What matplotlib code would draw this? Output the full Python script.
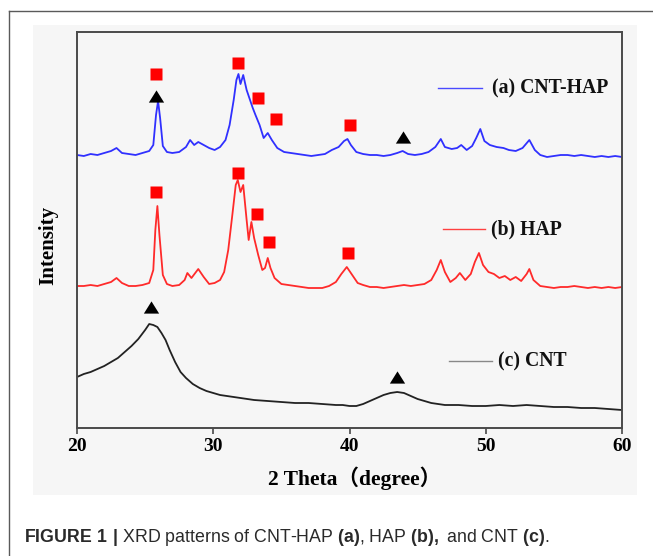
import matplotlib
matplotlib.use("Agg")
import matplotlib.pyplot as plt
from matplotlib.lines import Line2D
from matplotlib.patches import Rectangle
from matplotlib.path import Path

# ---------------- data ----------------
theta_a = [20.0, 20.5, 21.0, 21.5, 22.0, 22.5, 22.9, 23.3, 23.8, 24.3, 24.8, 25.3, 25.6, 25.8, 25.95,
           26.1, 26.3, 26.6, 27.0, 27.5, 28.0, 28.3, 28.6, 28.9, 29.3, 29.7, 30.1, 30.5, 30.9, 31.2,
           31.5, 31.7, 31.85, 32.0, 32.2, 32.45, 32.7, 32.9, 33.1, 33.4, 33.7, 34.0, 34.3, 34.7, 35.2,
           35.7, 36.2, 36.7, 37.2, 37.7, 38.2, 38.7, 39.2, 39.6, 39.85, 40.1, 40.5, 41.0, 41.5, 42.0,
           42.5, 43.0, 43.5, 43.9, 44.3, 44.8, 45.3, 45.8, 46.3, 46.7, 47.0, 47.5, 47.9, 48.2, 48.6,
           49.0, 49.3, 49.6, 49.9, 50.3, 50.8, 51.3, 51.7, 52.2, 52.7, 53.2, 53.6, 54.0, 54.5, 55.0,
           55.5, 56.0, 56.5, 57.0, 57.5, 58.0, 58.5, 59.0, 59.5, 60.0]
int_a = [273, 272, 274, 273, 275, 277, 280, 275, 274, 273, 275, 277, 283, 313, 327,
         310, 282, 276, 275, 276, 281, 288, 283, 286, 283, 280, 278, 281, 288, 303,
         328, 348, 354, 344, 353, 338, 328, 320, 313, 303, 290, 295, 288, 280, 276,
         275, 274, 273, 272, 273, 274, 278, 281, 287, 289, 283, 276, 274, 273, 273,
         272, 273, 275, 277, 274, 273, 274, 276, 281, 289, 281, 279, 280, 283, 278,
         282, 290, 299, 287, 283, 281, 280, 278, 277, 280, 288, 278, 273, 271, 272,
         273, 273, 272, 273, 272, 271, 272, 271, 272, 271]

theta_b = [20.0, 20.5, 21.0, 21.5, 22.0, 22.5, 22.9, 23.3, 23.8, 24.3, 24.8, 25.3, 25.6, 25.75, 25.9,
           26.05, 26.3, 26.6, 27.0, 27.5, 27.9, 28.1, 28.4, 28.9, 29.3, 29.7, 30.1, 30.5, 30.8, 31.1,
           31.4, 31.65, 31.8, 32.0, 32.2, 32.45, 32.6, 32.8, 33.0, 33.3, 33.6, 33.8, 34.0, 34.2, 34.5,
           35.0, 35.5, 36.0, 36.5, 37.0, 37.5, 38.0, 38.5, 39.0, 39.4, 39.8, 40.2, 40.6, 41.0, 41.5,
           42.0, 42.5, 43.0, 43.5, 44.0, 44.5, 45.0, 45.5, 46.0, 46.4, 46.7, 47.0, 47.4, 47.8, 48.1,
           48.5, 48.9, 49.2, 49.5, 49.8, 50.2, 50.6, 51.0, 51.4, 51.8, 52.2, 52.6, 53.0, 53.2, 53.5,
           54.0, 54.5, 55.0, 55.5, 56.0, 56.5, 57.0, 57.5, 58.0, 58.5, 59.0, 59.5, 60.0]
int_b = [142, 142, 143, 142, 144, 146, 150, 145, 142, 142, 143, 145, 158, 198, 222,
         193, 153, 144, 142, 143, 148, 155, 150, 159, 151, 144, 145, 148, 156, 178,
         213, 243, 248, 236, 243, 208, 188, 206, 190, 173, 158, 160, 170, 160, 150,
         144, 143, 142, 141, 140, 140, 140, 142, 146, 154, 161, 153, 145, 143, 141,
         141, 140, 141, 142, 143, 142, 143, 144, 148, 158, 168, 156, 146, 150, 155,
         148, 154, 166, 175, 163, 156, 154, 150, 152, 148, 151, 147, 154, 159, 148,
         142, 141, 140, 141, 141, 142, 141, 140, 141, 140, 141, 140, 141]

theta_c = [20.0, 20.5, 21.0, 21.5, 22.0, 22.5, 23.0, 23.5, 24.0, 24.5, 25.0, 25.3, 25.6, 25.9, 26.2,
           26.5, 26.8, 27.2, 27.6, 28.0, 28.5, 29.0, 29.5, 30.0, 30.5, 31.0, 32.0, 33.0, 34.0, 35.0,
           36.0, 37.0, 38.0, 39.0, 39.5, 40.0, 40.5, 41.0, 41.5, 42.0, 42.5, 43.0, 43.5, 44.0, 44.5,
           45.0, 45.5, 46.0, 46.5, 47.0, 48.0, 49.0, 50.0, 51.0, 52.0, 53.0, 54.0, 55.0, 56.0, 57.0,
           58.0, 59.0, 60.0]
int_c = [51, 54, 56, 59, 62, 66, 70, 76, 82, 89, 98, 104, 103, 101, 95,
         88, 78, 66, 56, 50, 44, 40, 37, 35, 33, 32, 30, 28, 27, 26,
         25, 25, 24, 23, 23, 22, 22, 24, 27, 30, 33, 35, 36, 35, 32,
         29, 27, 25, 24, 23, 23, 22, 22, 23, 22, 23, 22, 21, 21, 20,
         20, 19, 18]

# HAP (square) and CNT (triangle) peak markers
sq_a_x = [25.8, 31.8, 33.3, 34.6, 40.0]
sq_a_y = [354, 365, 330, 309, 303]
tri_a_x = [25.8, 43.9]
tri_a_y = [332, 291]
sq_b_x = [25.8, 31.8, 33.2, 34.1, 39.9]
sq_b_y = [236, 255, 214, 186, 175]
tri_c_x = [25.4, 43.5]
tri_c_y = [121, 51]

labels = ["(a) CNT-HAP", "(b) HAP", "(c) CNT"]
xticks = [20, 30, 40, 50, 60]

# ---------------- figure ----------------
W, H = 653, 556
fig = plt.figure(figsize=(W / 100, H / 100), dpi=100)
fig.patch.set_facecolor("white")


def fx(px):
    return px / W


def fy(py):
    return 1 - py / H


# outer frame lines
fig.add_artist(Line2D([fx(9), fx(9)], [fy(11), 0], color="#5a5a5a", lw=1.0))
fig.add_artist(Line2D([fx(9), 1], [fy(11), fy(11)], color="#5a5a5a", lw=1.0))
# light grey panel behind the chart
fig.add_artist(Rectangle((fx(33), fy(495)), fx(637) - fx(33), fy(25) - fy(495),
                         facecolor="#f6f6f6", edgecolor="none", zorder=0))

ax = fig.add_axes([fx(77), fy(428), fx(622) - fx(77), fy(32) - fy(428)])
ax.set_facecolor("#f6f6f6")

serif = "Liberation Serif"
cols = ["#3030ff", "#ff2a2a", "#222222"]
ax.plot(theta_a, int_a, color=cols[0], lw=1.3)
ax.plot(theta_b, int_b, color=cols[1], lw=1.3)
ax.plot(theta_c, int_c, color=cols[2], lw=1.3)

tri = Path([(0, 0.8), (-1, -0.8), (1, -0.8), (0, 0.8)],
           [Path.MOVETO, Path.LINETO, Path.LINETO, Path.CLOSEPOLY])
ax.plot(sq_a_x, sq_a_y, ls="none", marker="s", ms=8, color="#ff0000", mec="none")
ax.plot(sq_b_x, sq_b_y, ls="none", marker="s", ms=8, color="#ff0000", mec="none")
ax.plot(tri_a_x, tri_a_y, ls="none", marker=tri, ms=11, color="black", mec="none")
ax.plot(tri_c_x, tri_c_y, ls="none", marker=tri, ms=11, color="black", mec="none")

ax.set_xlim(20, 60)
ax.set_ylim(0, 396)
ax.set_xticks(xticks)
ax.set_xticklabels([str(t) for t in xticks], fontfamily=serif, fontweight="bold", fontsize=14)
ax.set_yticks([])
ax.tick_params(axis="x", direction="out", length=4, width=1.2, color="#4a4a4a", pad=3)
for s in ax.spines.values():
    s.set_color("#4a4a4a")
    s.set_linewidth(1.4)

ax.set_ylabel("Intensity", fontfamily=serif, fontweight="bold", fontsize=15)
ax.yaxis.set_label_coords(-0.035, 0.462)
ax.set_xlabel("2 Theta（degree）", family=[serif, "Noto Sans CJK SC"],
              fontweight="bold", fontsize=15.5)
ax.xaxis.set_label_coords(0.51, -0.097)


# legend entries (axes-fraction positions, from pixel positions)
def axx(px):
    return (px - 77) / (622 - 77)


def axy(py):
    return (428 - py) / (428 - 32)


leg_pos = [((438, 482), 88, 492), ((443, 485), 229, 491), ((449, 492), 361, 498)]
leg_cols = ["#4a4aff", "#ff4040", "#888888"]
for ((x0, x1), yy, tx), lab, c in zip(leg_pos, labels, leg_cols):
    ax.add_line(Line2D([axx(x0), axx(x1)], [axy(yy), axy(yy)], transform=ax.transAxes,
                       color=c, lw=1.0))
    ax.text(axx(tx), axy(yy), lab, transform=ax.transAxes, fontfamily=serif,
            fontweight="bold", fontsize=14.2, va="center", ha="left", color="#111111")

# caption
plt.rcParams["mathtext.fontset"] = "custom"
plt.rcParams["mathtext.rm"] = "Liberation Sans"
plt.rcParams["mathtext.bf"] = "Liberation Sans:bold"
cap = (r"$\mathbf{FIGURE\ 1\ |}$ XRD patterns of CNT-HAP $\mathbf{(a)}$, HAP "
       r"$\mathbf{(b),}$ and CNT $\mathbf{(c)}$.")
fig.text(fx(24), fy(537), cap, fontfamily="Liberation Sans", fontsize=12.8,
         va="center", ha="left", color="#2a2a2a")

fig.savefig("out.png", dpi=100)
